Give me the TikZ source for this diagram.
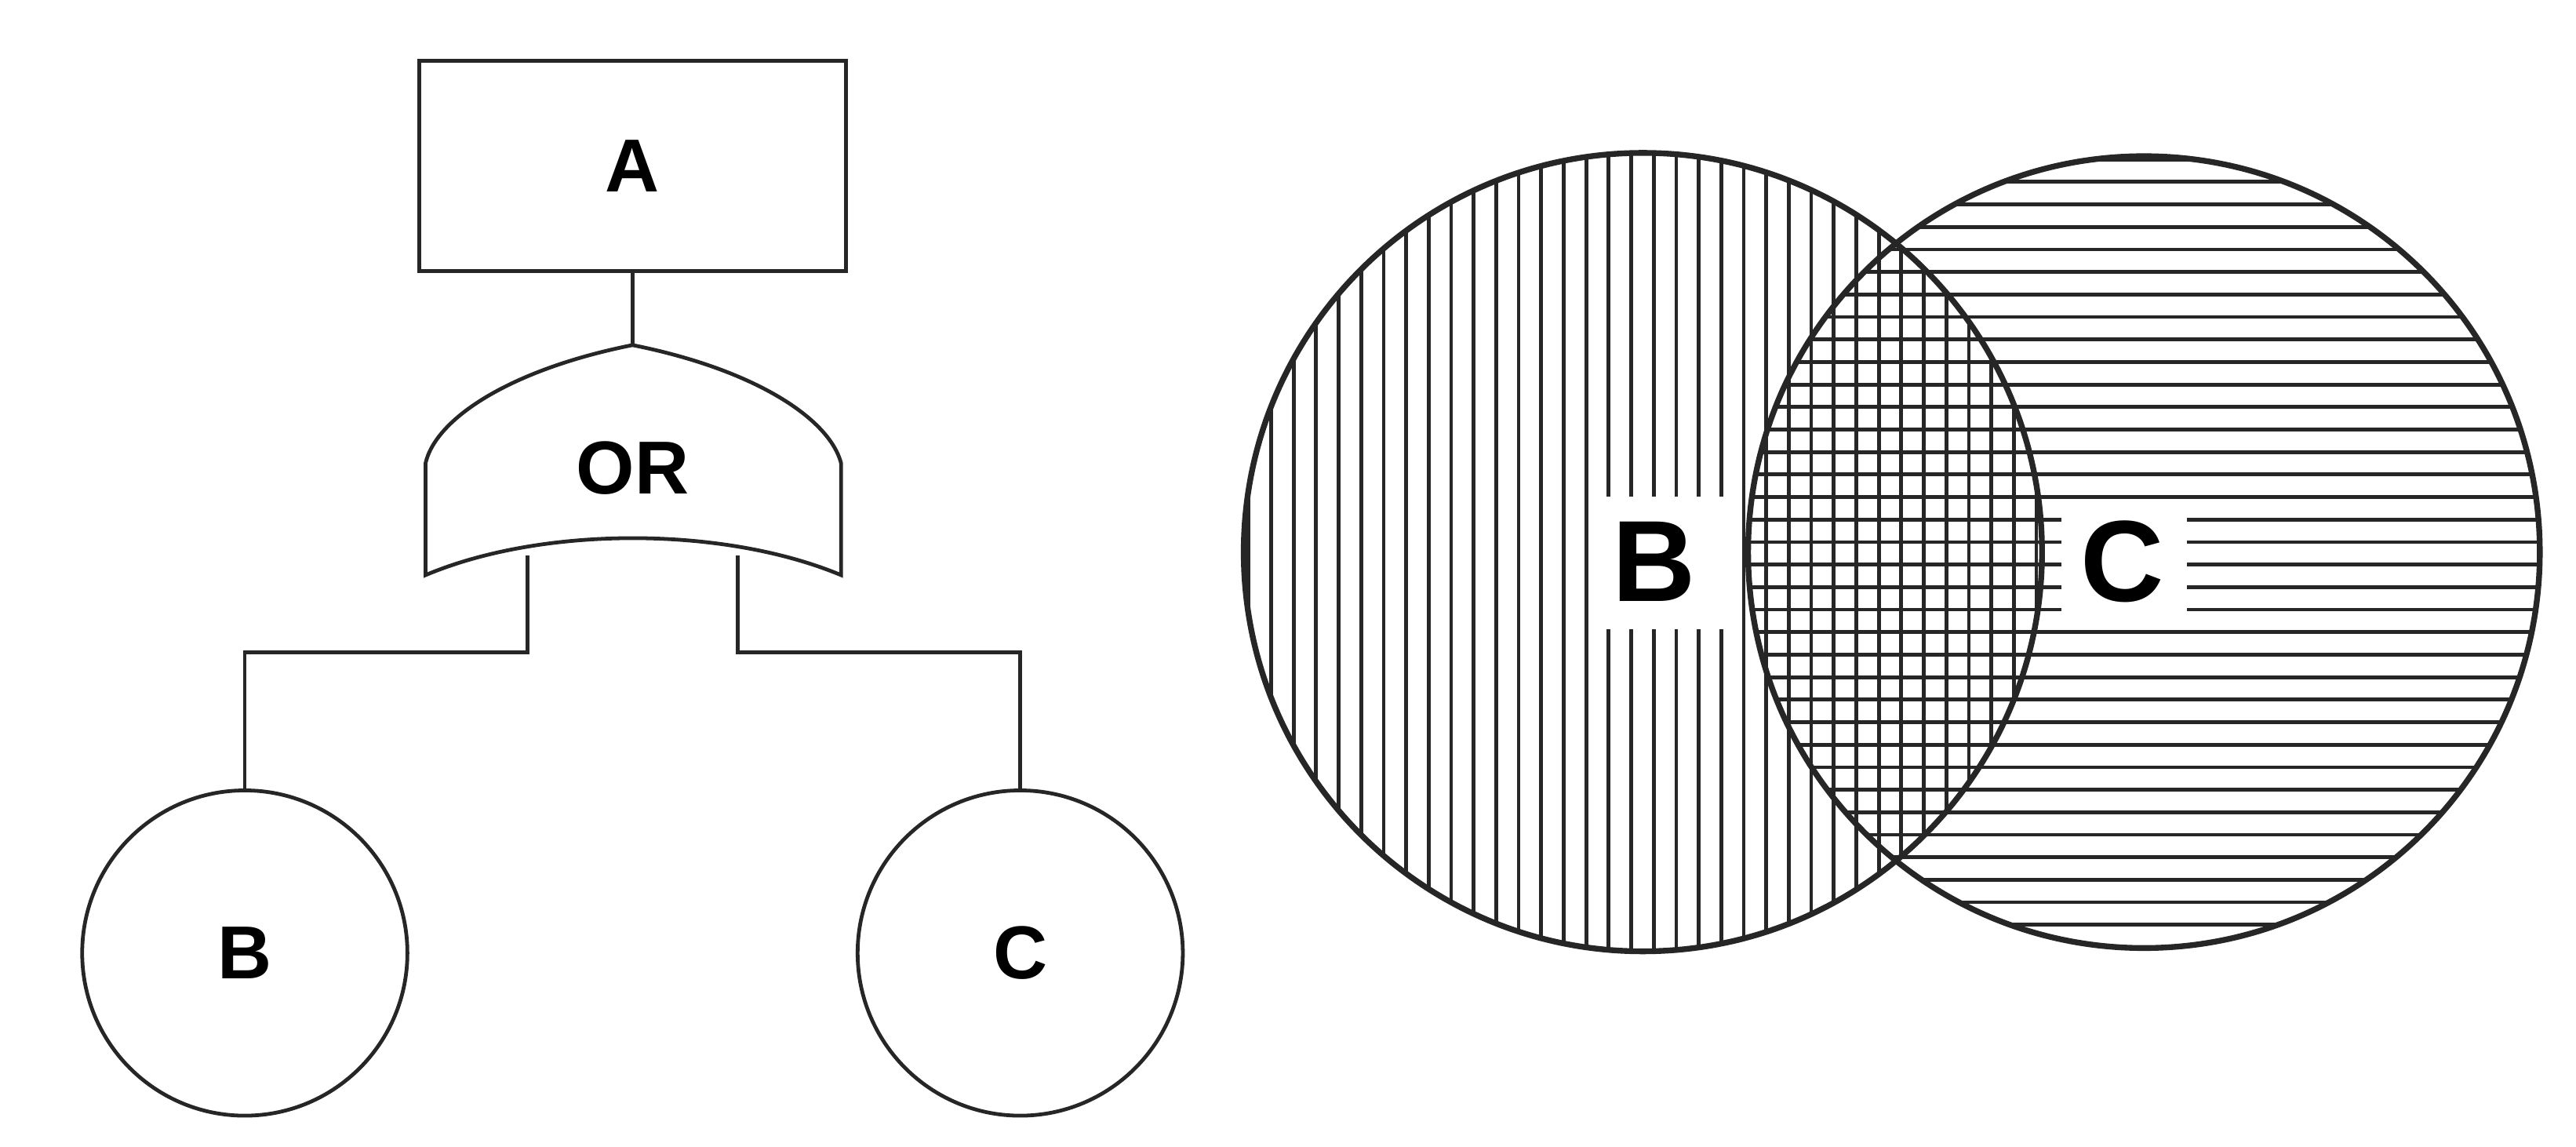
\documentclass[tikz,border=0pt]{standalone}
\usepackage{fontspec}
\setmainfont{Liberation Sans}
\begin{document}
\begin{tikzpicture}[x=0.02cm,y=-0.02cm,
  thin line/.style={line width=1.3pt, draw=black!85},
  venn/.style={line width=2pt, draw=black!85},
  hatch/.style={line width=1.3pt, draw=black!85},
  lbl/.style={font=\bfseries\fontsize{26}{30}\selectfont},
  vlbl/.style={font=\bfseries\fontsize{40}{44}\selectfont, fill=white, inner sep=0pt}]
\useasboundingbox (0,0) rectangle (1568,698);
% fault tree
\node[thin line, draw, minimum width=5.2cm, minimum height=2.56cm, lbl] (A) at (385,101) {A};
\coordinate (gtop) at (385,210);
\draw[thin line] (A.south) -- (gtop);
\draw[thin line] (gtop) .. controls (310,225) and (265,255) .. (259,282) -- (259,350)
  .. controls (330,320) and (440,320) .. (512,350) -- (512,282)
  .. controls (505,255) and (460,225) .. (gtop) -- cycle;
\node[lbl] (OR) at (385,285) {OR};
\node[thin line, draw, circle, minimum size=3.96cm, lbl] (B) at (149,580) {B};
\node[thin line, draw, circle, minimum size=3.96cm, lbl] (C) at (621,580) {C};
\coordinate (g1) at (321,338);
\coordinate (g2) at (449,338);
\draw[thin line] (g1) -- (321,397) -| (B.north);
\draw[thin line] (g2) -- (449,397) -| (C.north);
% Venn
\begin{scope}
\clip (1000,336) circle (243);
\foreach \x in {760,773.7,...,1243} \draw[hatch] (\x,80) -- (\x,590);
\end{scope}
\begin{scope}
\clip (1305,336) circle (241);
\foreach \y in {97,110.7,...,578} \draw[hatch] (1050,\y) -- (1560,\y);
\end{scope}
\node[venn, circle, draw, minimum size=9.72cm] (VB) at (1000,336) {};
\node[venn, circle, draw, minimum size=9.64cm] (VC) at (1305,336) {};
\fill[white] (968,302) rectangle (1055,383);
\node[vlbl] (LB) at (1007,342) {B};
\fill[white] (1255,306) rectangle (1331,380);
\node[vlbl] (LC) at (1292,342) {C};
\end{tikzpicture}
\end{document}
